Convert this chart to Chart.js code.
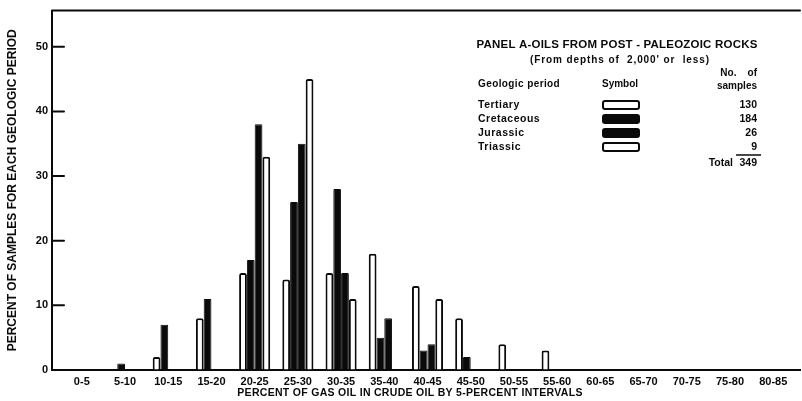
<!DOCTYPE html>
<html>
<head>
<meta charset="utf-8">
<title>Gas oil in crude oil by geologic period</title>
<script src="https://cdn.jsdelivr.net/npm/chart.js@4/dist/chart.umd.min.js"></script>
<style>
  html, body { margin: 0; padding: 0; background: #fff; }
  #wrap { width: 802px; height: 401px; }
</style>
</head>
<body>
<div id="wrap"><canvas id="c" width="802" height="401"></canvas></div>
<script>
// Gas-oil content classes (percent of crude oil, 5-percent intervals)
const intervals = ['0-5', '5-10', '10-15', '15-20', '20-25', '25-30', '30-35', '35-40', '40-45',
                   '45-50', '50-55', '55-60', '60-65', '65-70', '70-75', '75-80', '80-85'];

// Percent of samples of each geologic period falling in each interval
const tertiary   = [0, 0, 2, 8, 15, 14, 15, 18, 13, 8, 4, 3, 0, 0, 0, 0, 0];
const cretaceous = [0, 1, 7, 11, 17, 26, 28, 5, 3, 2, 0, 0, 0, 0, 0, 0, 0];
const jurassic   = [0, 0, 0, 0, 38, 35, 15, 8, 4, 0, 0, 0, 0, 0, 0, 0, 0];
const triassic   = [0, 0, 0, 0, 33, 45, 11, 0, 11, 0, 0, 0, 0, 0, 0, 0, 0];

const periods = ['Tertiary', 'Cretaceous', 'Jurassic', 'Triassic'];
const sampleCounts = [130, 184, 26, 9];
const yTicks = [0, 10, 20, 30, 40, 50];

const FONT = "'Liberation Sans', Arial, sans-serif";
const INK = '#0a0a0a';

const toPoints = arr => arr.map((v, i) => ({ x: i, y: v === 0 ? null : v }));

const openBar = {
  backgroundColor: '#ffffff', borderColor: INK, borderWidth: 2,
  borderRadius: { topLeft: 2, topRight: 2 }, borderSkipped: 'start'
};
const solidBar = {
  backgroundColor: INK, borderColor: INK, borderWidth: 1,
  borderRadius: { topLeft: 1, topRight: 1 }, borderSkipped: 'start'
};

const seriesValues = [tertiary, cretaceous, jurassic, triassic];
const seriesStyles = [openBar, solidBar, solidBar, openBar];

const datasets = periods.map((name, i) => Object.assign({
  label: name,
  data: toPoints(seriesValues[i])
}, seriesStyles[i]));

// Inward tick marks on the value axis, top frame line, axis caption and the panel key
const frameAndKey = {
  id: 'frameAndKey',
  afterDatasetsDraw(chart) {
    const { ctx, chartArea } = chart;
    const y = chart.scales.y;
    ctx.save();
    ctx.strokeStyle = INK;
    ctx.lineWidth = 2;
    ctx.lineCap = 'round';
    // top frame
    ctx.beginPath();
    ctx.moveTo(chartArea.left, chartArea.top);
    ctx.lineTo(chartArea.right, chartArea.top);
    ctx.stroke();
    // tick marks pointing into the plot
    yTicks.forEach(v => {
      if (v === 0) return;
      const py = y.getPixelForValue(v);
      ctx.beginPath();
      ctx.moveTo(chartArea.left, py);
      ctx.lineTo(chartArea.left + 12, py);
      ctx.stroke();
    });
    ctx.restore();
  },
  afterDraw(chart) {
    const ctx = chart.ctx;
    ctx.save();
    ctx.fillStyle = INK;
    ctx.strokeStyle = INK;
    ctx.textBaseline = 'middle';

    // horizontal axis caption
    ctx.textAlign = 'center';
    ctx.font = `bold 10.5px ${FONT}`;
    ctx.letterSpacing = '0.3px';
    ctx.fillText('PERCENT OF GAS OIL IN CRUDE OIL BY 5-PERCENT INTERVALS', 410, 393);

    // panel heading
    ctx.font = `bold 11.5px ${FONT}`;
    ctx.letterSpacing = '0.2px';
    ctx.fillText('PANEL A-OILS FROM POST - PALEOZOIC ROCKS', 617, 45);
    ctx.font = `bold 10px ${FONT}`;
    ctx.letterSpacing = '0.9px';
    ctx.fillText("(From depths of  2,000' or  less)", 620, 60);

    ctx.font = `bold 10px ${FONT}`;
    ctx.letterSpacing = '0.4px';
    ctx.textAlign = 'left';
    ctx.fillText('Geologic period', 478, 84);
    ctx.letterSpacing = '0px';
    ctx.fillText('Symbol', 602, 84);
    ctx.textAlign = 'right';
    ctx.fillText('No.    of', 757, 73);
    ctx.fillText('samples', 757, 86);

    periods.forEach((name, i) => {
      const ry = 105 + i * 14;
      ctx.font = `bold 10.5px ${FONT}`;
      ctx.letterSpacing = '0.5px';
      ctx.textAlign = 'left';
      ctx.fillStyle = INK;
      ctx.fillText(name, 478, ry);
      ctx.letterSpacing = '0px';
      ctx.textAlign = 'right';
      ctx.fillText(String(sampleCounts[i]), 757, ry);
      const st = seriesStyles[i];
      ctx.beginPath();
      ctx.roundRect(603, ry - 4, 36, 8, 2);
      ctx.fillStyle = st.backgroundColor;
      ctx.fill();
      ctx.lineWidth = 2;
      ctx.stroke();
    });

    const total = sampleCounts.reduce((a, b) => a + b, 0);
    ctx.lineWidth = 1.5;
    ctx.beginPath();
    ctx.moveTo(736, 155);
    ctx.lineTo(761, 155);
    ctx.stroke();
    ctx.fillStyle = INK;
    ctx.textAlign = 'right';
    ctx.font = `bold 10.5px ${FONT}`;
    ctx.fillText(String(total), 757, 163);
    ctx.fillText('Total', 733, 163);
    ctx.restore();
  }
};

new Chart(document.getElementById('c'), {
  type: 'bar',
  data: { datasets },
  plugins: [frameAndKey],
  options: {
    responsive: false,
    animation: false,
    devicePixelRatio: 1,
    layout: { padding: { left: 0, top: 10, right: 2, bottom: 0 } },
    plugins: { legend: { display: false }, tooltip: { enabled: false } },
    datasets: { bar: { categoryPercentage: 0.72, barPercentage: 1.0 } },
    scales: {
      x: {
        type: 'linear',
        min: -0.69,
        max: 16.62,
        offset: false,
        afterBuildTicks: s => { s.ticks = intervals.map((_, i) => ({ value: i })); },
        afterFit: s => { s.height = 31; },
        grid: { drawOnChartArea: false, drawTicks: false, color: INK },
        border: { display: true, color: INK, width: 2 },
        ticks: {
          autoSkip: false, maxRotation: 0, minRotation: 0, padding: 5, color: INK,
          font: { family: FONT, size: 11, weight: 'bold' },
          callback: v => intervals[v] ?? ''
        },
        title: { display: false }
      },
      y: {
        min: 0,
        max: 55.6,
        afterBuildTicks: s => { s.ticks = yTicks.map(v => ({ value: v })); },
        afterFit: s => { s.width = 52; },
        grid: { drawOnChartArea: false, drawTicks: false, color: INK },
        border: { display: true, color: INK, width: 2 },
        ticks: {
          padding: 4, color: INK,
          font: { family: FONT, size: 11, weight: 'bold' }
        },
        title: {
          display: true,
          text: 'PERCENT OF SAMPLES FOR EACH GEOLOGIC PERIOD',
          color: INK,
          font: { family: FONT, size: 12, weight: 'bold' },
          padding: { top: 5, bottom: 0 }
        }
      }
    }
  }
});
</script>
</body>
</html>
